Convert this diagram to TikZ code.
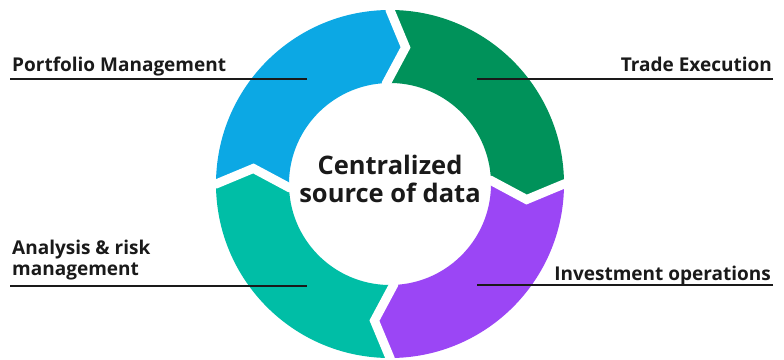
\documentclass[tikz,border=0pt]{standalone}
\usepackage{fontspec}
\setmainfont{Open Sans}
\definecolor{segblue}{HTML}{0CA8E4}
\definecolor{seggreen}{HTML}{00925A}
\definecolor{segpurple}{HTML}{9B46F5}
\definecolor{segteal}{HTML}{00BEA6}
\definecolor{ink}{HTML}{1A1A1A}
\tikzset{
  lbl/.style={font=\bfseries\fontsize{19}{20}\selectfont, text=ink, inner sep=0pt},
  ctr/.style={font=\bfseries\fontsize{25.5}{28}\selectfont, text=ink, align=center, inner sep=0pt},
  leader/.style={draw=ink, line width=1.8pt},
  gapline/.style={draw=white, line width=9pt, line join=miter},
}
\newcommand{\Ro}{174pt}
\newcommand{\Ri}{101pt}
\newcommand{\Rm}{137.5pt}
% segment: #1 colour, #2 start angle (larger), #3 end angle (smaller)
\newcommand{\ringseg}[3]{%
  \fill[#1] (#2:\Ro) arc[start angle=#2, end angle=#3, radius=\Ro]
    -- ({#3-6.5}:\Rm) -- ({#3+2}:\Ri)
    arc[start angle={#3+2}, end angle={#2+2}, radius=\Ri]
    -- ({#2-6.5}:\Rm) -- cycle;}
\newcommand{\ringgap}[1]{%
  \draw[gapline] (#1:182pt) -- (#1:\Ro) -- ({#1-6.5}:\Rm) -- ({#1+2}:\Ri) -- ({#1+2}:93pt);}
\begin{document}
\begin{tikzpicture}[x=1pt,y=1pt]
\useasboundingbox (0,0) rectangle (784,359);
\fill[white] (0,0) rectangle (784,359);
\begin{scope}[shift={(390,175)}]
  \ringseg{segblue}{180}{90}
  \ringseg{seggreen}{90}{0}
  \ringseg{segpurple}{0}{-90}
  \ringseg{segteal}{-90}{-180}
  \ringgap{90}
  \ringgap{0}
  \ringgap{-90}
  \ringgap{180}
\end{scope}
\node[ctr] (center) at (390,180) {Centralized\\source of data};
\node[lbl, anchor=base west] (pm) at (12,287) {Portfolio Management};
\node[lbl, anchor=base east] (te) at (772,287) {Trade Execution};
\node[lbl, anchor=base west, align=left] (ar) at (12,84) {Analysis \& risk\\management};
\node[lbl, anchor=base east] (io) at (771,79) {Investment operations};
\coordinate (pmA) at (10,280); \coordinate (pmB) at (307,280);
\coordinate (teA) at (773,280); \coordinate (teB) at (477,280);
\coordinate (arA) at (10,73); \coordinate (arB) at (307,73);
\coordinate (ioA) at (773,74); \coordinate (ioB) at (477,74);
\draw[leader] (pmA) -- (pmB);
\draw[leader] (teA) -- (teB);
\draw[leader] (arA) -- (arB);
\draw[leader] (ioA) -- (ioB);
\end{tikzpicture}
\end{document}
